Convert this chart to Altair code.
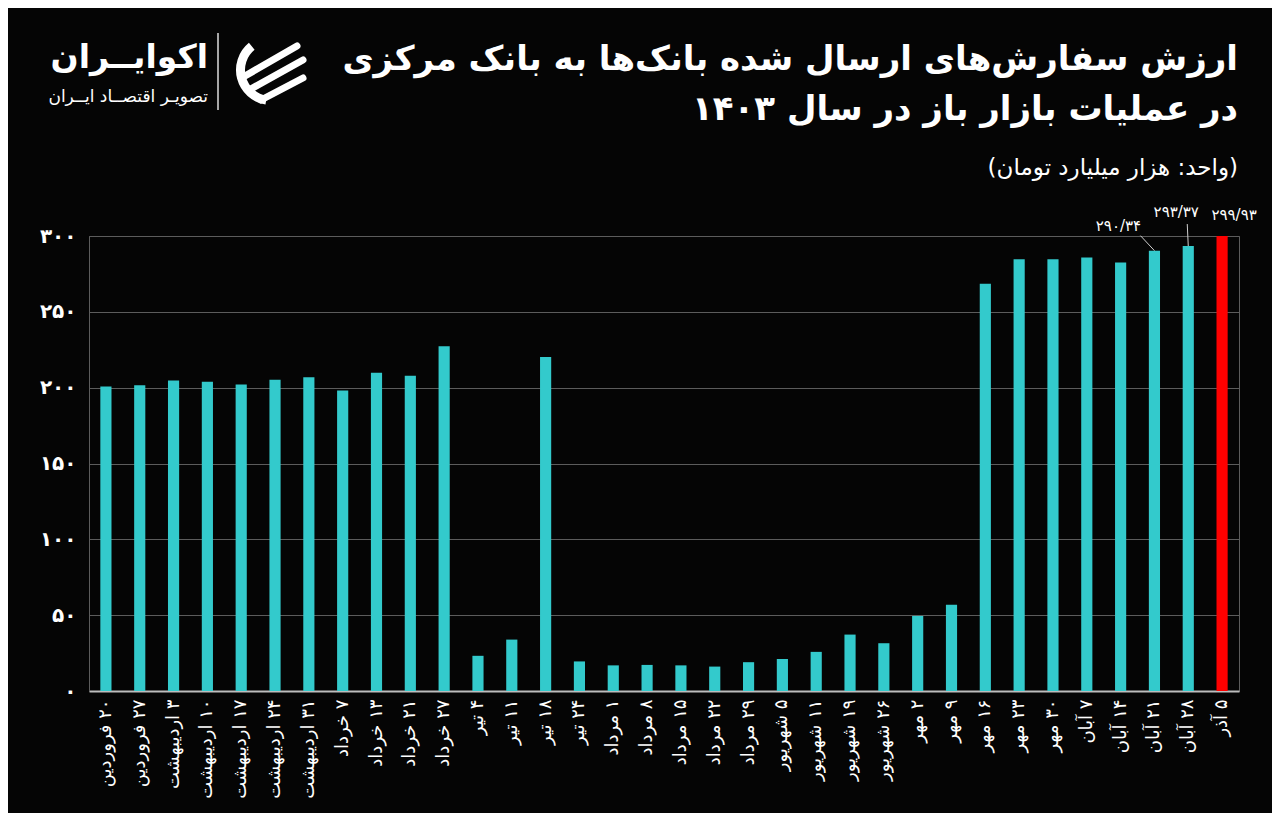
import altair as alt
import pandas as pd

# ---------------- data ----------------
cats = ["۲۰ فروردین", "۲۷ فروردین", "۳ اردیبهشت", "۱۰ اردیبهشت", "۱۷ اردیبهشت",
        "۲۴ اردیبهشت", "۳۱ اردیبهشت", "۷ خرداد", "۱۳ خرداد", "۲۱ خرداد", "۲۷ خرداد",
        "۴ تیر", "۱۱ تیر", "۱۸ تیر", "۲۴ تیر", "۱ مرداد", "۸ مرداد", "۱۵ مرداد",
        "۲۲ مرداد", "۲۹ مرداد", "۵ شهریور", "۱۱ شهریور", "۱۹ شهریور", "۲۶ شهریور",
        "۲ مهر", "۹ مهر", "۱۶ مهر", "۲۳ مهر", "۳۰ مهر", "۷ آبان", "۱۴ آبان",
        "۲۱ آبان", "۲۸ آبان", "۵ آذر"]
values = [200.8, 201.6, 204.7, 203.9, 202.1, 205.2, 206.8, 198.2, 209.9, 207.8, 227.3,
          23.2, 33.9, 220.3, 19.5, 16.9, 17.2, 16.9, 16.1, 19.0, 21.1, 25.8, 37.2, 31.5,
          49.5, 56.8, 268.5, 284.6, 284.6, 285.9, 282.6, 290.34, 293.37, 299.93]
kinds = ["base"] * 33 + ["last"]
y_ticks = [0, 50, 100, 150, 200, 250, 300]
annotated = [31, 32, 33]

title_lines = ["ارزش سفارش‌های ارسال شده بانک‌ها به بانک مرکزی",
               "در عملیات بازار باز در سال ۱۴۰۳"]
subtitle_line = "(واحد: هزار میلیارد تومان)"
logo_name = "اکوایــران"
logo_tag = "تصویـر اقتصــاد ایــران"

# ---------------- style ----------------
FONT = "DejaVu Sans"
TEAL = "#33CACC"
RED = "#FF0000"
BG = "#050505"
GRID = "#5c5c5c"
FA = str.maketrans("0123456789", "۰۱۲۳۴۵۶۷۸۹")

df = pd.DataFrame({
    "idx": list(range(len(cats))),
    "cat": cats,
    "value": values,
    "kind": kinds,
    "label": [f"{v:.2f}".replace(".", "/").translate(FA) for v in values],
})

fa_expr = "datum.label"
for i, d in enumerate("۰۱۲۳۴۵۶۷۸۹"):
    fa_expr = f"replace({fa_expr}, regexp('{i}', 'g'), '{d}')"

x_scale = alt.Scale(domain=cats, paddingInner=0.67, paddingOuter=0.335)
x_axis = alt.Axis(title=None, labelAngle=-90, labelFontSize=18, labelColor="white",
                  labelPadding=8, ticks=False, domainColor="#bdbdbd", domainWidth=2,
                  grid=False, labelExpr="'\u200f' + datum.label", labelFont=FONT)
y_axis = alt.Axis(title=None, values=y_ticks, labelFontSize=20, labelColor="white",
                  labelPadding=13, ticks=False, domainColor=GRID, gridColor=GRID,
                  gridWidth=1, labelExpr=fa_expr, labelFont=FONT, labelFontWeight="bold")

X_bar = alt.X("cat:N", sort=cats, scale=x_scale, axis=x_axis)
X_mid = alt.X("cat:N", sort=cats, scale=x_scale, axis=x_axis, bandPosition=0.5)
Y = alt.Y("value:Q", scale=alt.Scale(domain=[0, 300], nice=False, zero=True), axis=y_axis)

base = alt.Chart(df)

bars = base.mark_bar().encode(
    x=X_bar,
    y=Y,
    color=alt.Color("kind:N", scale=alt.Scale(domain=["base", "last"], range=[TEAL, RED]),
                    legend=None),
)

# annotation labels (offsets are styling)
ann_dx = [-36, -12, 12]
ann_dy = [-25, -34, -21]
layers = [bars]
for i, dx, dy in zip(annotated, ann_dx, ann_dy):
    layers.append(
        base.transform_filter(alt.datum.idx == i)
        .mark_text(dx=dx, dy=dy, fontSize=15, color="white", font=FONT,
                   align="center", baseline="middle")
        .encode(x=X_mid, y=Y, text="label:N")
    )

lead_off = [(-14, -15), (-1, -22)]
for i, (ox, oy) in zip(annotated[:2], lead_off):
    layers.append(
        base.transform_filter(alt.datum.idx == i)
        .mark_rule(color="#cfcfcf", strokeWidth=1, x2Offset=ox, y2Offset=oy)
        .encode(x=X_mid, x2=alt.X2("cat:N", bandPosition=0.5), y=Y, y2="value:Q")
    )

# title block (header texts)
head_df = pd.DataFrame({"t1": [title_lines[0]], "t2": [title_lines[1]], "sub": [subtitle_line],
                        "name": [logo_name], "tag": [logo_tag]})
head = alt.Chart(head_df)
for field, size, weight, yy in [("t1", 34, "bold", -166), ("t2", 34, "bold", -116),
                                ("sub", 23, "normal", -61)]:
    layers.append(head.mark_text(fontSize=size, fontWeight=weight, color="white", font=FONT,
                                 align="right", baseline="alphabetic")
                  .encode(x=alt.value(1149), y=alt.value(yy), text=f"{field}:N"))

# logo
layers.append(head.mark_text(fontSize=33, fontWeight="bold", color="white", font=FONT,
                             align="right", baseline="alphabetic")
              .encode(x=alt.value(119), y=alt.value(-168), text="name:N"))
layers.append(head.mark_text(fontSize=17, color="white", font=FONT,
                             align="right", baseline="alphabetic")
              .encode(x=alt.value(119), y=alt.value(-134), text="tag:N"))
layers.append(head.mark_rule(color="#dddddd", strokeWidth=1.5)
              .encode(x=alt.value(129), y=alt.value(-203), y2=alt.value(-126)))
layers.append(head.mark_arc(color="white", radius=35, radius2=26, theta=3.3, theta2=5.6)
              .encode(x=alt.value(182), y=alt.value(-166)))
for (x1, y1, x2, y2) in [(156, -160, 208, -190), (160, -146, 214, -176), (172, -136, 214, -158)]:
    layers.append(head.mark_rule(color="white", strokeWidth=7, strokeCap="round")
                  .encode(x=alt.value(x1), y=alt.value(y1), x2=alt.value(x2), y2=alt.value(y2)))

chart = alt.layer(*layers).properties(
    width=1150, height=455,
    background=BG,
    autosize=alt.AutoSizeParams(type="none"),
    padding={"left": 81, "top": 228, "right": 33, "bottom": 122},
).configure_view(stroke=GRID, strokeWidth=1)

chart.save("out.html", embed_options={"renderer": "svg", "actions": False})
